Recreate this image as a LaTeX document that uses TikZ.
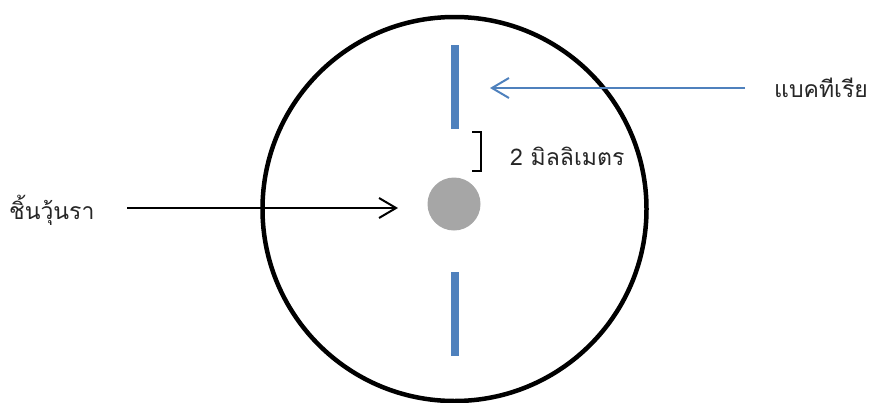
\documentclass[tikz,border=0pt]{standalone}
\usepackage{fontspec}
\usetikzlibrary{arrows.meta}
\newfontfamily\thaifont[Script=Thai]{Loma}
\definecolor{barblue}{HTML}{4F81BD}
\definecolor{agar}{HTML}{A6A6A6}
\definecolor{txt}{HTML}{262626}
\tikzset{
  lbl/.style={font=\thaifont\fontsize{23}{26}\selectfont, text=txt, inner sep=0pt},
  bar/.style={fill=barblue, draw=none, minimum width=8pt, inner sep=0pt},
  tip/.style={-{Straight Barb[length=17pt,width=20pt,line width=2pt]}, line width=2pt}
}
\begin{document}
\begin{tikzpicture}[x=1pt,y=-1pt]
\useasboundingbox (0,0) rectangle (869,402);
\node[circle, draw=black, line width=4.5pt, minimum size=384pt, inner sep=0pt] (dish) at (454.5,209) {};
\node[bar, minimum height=84pt] (top) at (455,86.5) {};
\node[bar, minimum height=84pt] (bot) at (455,313.5) {};
\node[circle, fill=agar, minimum size=53pt, inner sep=0pt] (agar) at (454,204) {};
\node[lbl, anchor=west] (bac) at (774,88) {แบคทีเรีย};
\node[lbl, anchor=west] (mm) at (510,156) {2 มิลลิเมตร};
\node[lbl, anchor=west] (slice) at (9,210) {ชิ้นวุ้นรา};
\coordinate (bacs) at (745,88);
\coordinate (bace) at (490,88);
\coordinate (slices) at (127,208);
\coordinate (slicee) at (398,208);
\draw[tip, draw=barblue] (bacs) -- (bace);
\draw[tip, draw=black] (slices) -- (slicee);
\coordinate (b1) at (472,132);
\coordinate (b2) at (481,132);
\coordinate (b3) at (481,171);
\coordinate (b4) at (472,171);
\draw[line width=1.5pt] (b1) -- (b2) -- (b3) -- (b4);
\end{tikzpicture}
\end{document}
